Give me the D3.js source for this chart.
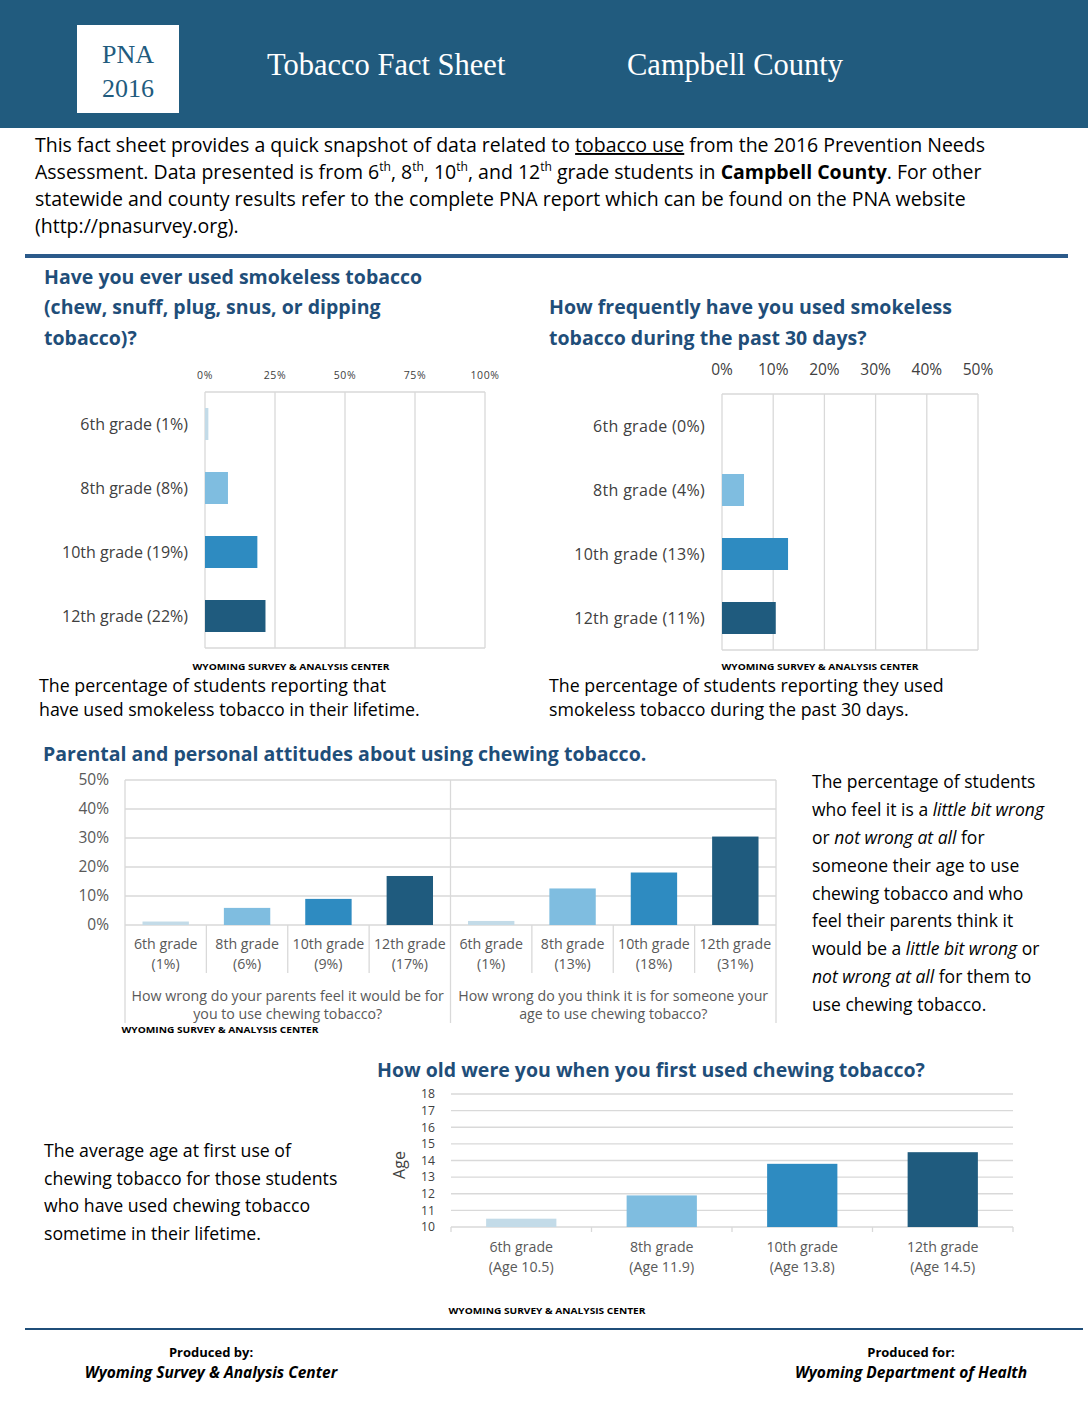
<!DOCTYPE html>
<html><head><meta charset="utf-8">
<script src="https://cdn.jsdelivr.net/npm/d3@7"></script>
<style>
body{margin:0;background:#fff;}
text{font-family:"Open Sans",sans-serif;}
</style></head>
<body>
<svg id="page" width="1088" height="1408"></svg>
<script>
// ---------- DATA ----------
const grades = ["6th grade","8th grade","10th grade","12th grade"];
const everUsed = [1.2, 8.2, 18.7, 21.6];          // % lifetime smokeless use
const past30 = [0, 4.3, 12.9, 10.5];              // % past 30 days
const parentsWrong = [1.2, 5.9, 9.0, 16.9];       // % parents attitude
const selfWrong = [1.4, 12.6, 18.1, 30.5];        // % personal attitude
const firstAge = [10.5, 11.9, 13.8, 14.5];        // average age first use
const ticks1 = [0, 25, 50, 75, 100];
const ticks2 = [0, 10, 20, 30, 40, 50];
const ticks3 = [0, 10, 20, 30, 40, 50];
const ticksAge = [10, 11, 12, 13, 14, 15, 16, 17, 18];
const groupLabels = [
  ["How wrong do your parents feel it would be for","you to use chewing tobacco?"],
  ["How wrong do you think it is for someone your","age to use chewing tobacco?"]
];
const colors = ["#c3dbe8","#7fbde0","#2e8bc1","#1f5b7e"];

const svg = d3.select("#page");
const navy = "#1f4e79", grid = "#d9d9d9", lab = "#404040", lab2 = "#595959";

// ---------- HEADER ----------
svg.append("rect").attr("x",0).attr("y",0).attr("width",1088).attr("height",128).attr("fill","#215b7e");
svg.append("rect").attr("x",77).attr("y",25).attr("width",102).attr("height",88).attr("fill","#fff");
const serif = '"Liberation Serif","DejaVu Serif",serif';
svg.append("text").attr("x",128).attr("y",63).attr("text-anchor","middle").attr("font-size",26)
  .style("font-family",serif).attr("fill","#215b7e").text("PNA");
svg.append("text").attr("x",128).attr("y",97).attr("text-anchor","middle").attr("font-size",26)
  .style("font-family",serif).attr("fill","#215b7e").text("2016");
svg.append("text").attr("x",267).attr("y",75).attr("font-size",30.5).style("font-family",serif)
  .attr("fill","#fff").text("Tobacco Fact Sheet");
svg.append("text").attr("x",627).attr("y",75).attr("font-size",30.5).style("font-family",serif)
  .attr("fill","#fff").text("Campbell County");

// ---------- INTRO ----------
function richLine(x,y,parts,size){
  const t = svg.append("text").attr("x",x).attr("y",y).attr("font-size",size).attr("fill","#000");
  parts.forEach(p=>{
    const s = t.append("tspan").text(p.t);
    if(p.b) s.attr("font-weight","bold");
    if(p.i) s.attr("font-style","italic");
    if(p.u) s.style("text-decoration","underline");
    if(p.sup) s.attr("baseline-shift","super").attr("font-size",size*0.62);
  });
  return t;
}
const introY=[152,179,206,233];
const introSize=19.5;
richLine(35,introY[0],[{t:"This fact sheet provides a quick snapshot of data related to "},{t:"tobacco use",u:1},{t:" from the 2016 Prevention Needs"}],introSize);
richLine(35,introY[1],[{t:"Assessment. Data presented is from 6"},{t:"th",sup:1},{t:", 8"},{t:"th",sup:1},{t:", 10"},{t:"th",sup:1},{t:", and 12"},{t:"th",sup:1},{t:" grade students in "},{t:"Campbell County",b:1},{t:". For other"}],introSize);
richLine(35,introY[2],[{t:"statewide and county results refer to the complete PNA report which can be found on the PNA website"}],introSize);
richLine(35,introY[3],[{t:"(http://pnasurvey.org)."}],introSize);
svg.append("rect").attr("x",25).attr("y",254).attr("width",1043).attr("height",4).attr("fill","#2b5a8a");

// helpers
function title(x,ys,lines){
  lines.forEach((l,i)=>svg.append("text").attr("x",x).attr("y",ys[i]).attr("font-size",19.5)
    .attr("font-weight","bold").attr("fill",navy).text(l));
}
function source(cx,y){
  svg.append("text").attr("x",cx).attr("y",y).attr("text-anchor","middle").attr("font-size",9)
    .attr("font-weight","bold").attr("fill","#000").attr("textLength",197).attr("lengthAdjust","spacingAndGlyphs")
    .text("WYOMING SURVEY & ANALYSIS CENTER");
}
function para(x,ys,lines,size){
  lines.forEach((l,i)=>richLine(x,ys[i],l,size));
}

// ---------- CHART 1 ----------
title(44,[284,314,345],["Have you ever used smokeless tobacco","(chew, snuff, plug, snus, or dipping","tobacco)?"]);
{
  const x = d3.scaleLinear().domain([0,100]).range([205,485]);
  const y = d3.scaleBand().domain(grades).range([392,648]).paddingInner(0.5).paddingOuter(0.25);
  const g = svg.append("g");
  g.selectAll("line.grid").data(ticks1).join("line").attr("x1",d=>x(d)).attr("x2",d=>x(d))
    .attr("y1",392).attr("y2",648).attr("stroke",grid).attr("stroke-width",1.3);
  g.append("line").attr("x1",205).attr("x2",485).attr("y1",392).attr("y2",392).attr("stroke",grid).attr("stroke-width",1.3);
  g.append("line").attr("x1",205).attr("x2",485).attr("y1",648).attr("y2",648).attr("stroke",grid).attr("stroke-width",1.3);
  g.selectAll("text.tk").data(ticks1).join("text").attr("x",d=>x(d)).attr("y",379).attr("text-anchor","middle")
    .attr("font-size",10.5).attr("letter-spacing",0.6).attr("fill",lab).text(d=>d+"%");
  g.selectAll("rect.bar").data(everUsed).join("rect").attr("x",x(0)).attr("y",(d,i)=>y(grades[i]))
    .attr("width",d=>x(d)-x(0)).attr("height",y.bandwidth()).attr("fill",(d,i)=>colors[i]);
  g.selectAll("text.lb").data(everUsed).join("text").attr("x",188).attr("y",(d,i)=>y(grades[i])+y.bandwidth()/2)
    .attr("dy","0.35em").attr("text-anchor","end").attr("font-size",16).attr("fill",lab)
    .text((d,i)=>`${grades[i]} (${Math.round(d)}%)`);
}
source(291,670);
para(39,[692,716],[[{t:"The percentage of students reporting that"}],[{t:"have used smokeless tobacco in their lifetime."}]],17.8);

// ---------- CHART 2 ----------
title(549,[314,345],["How frequently have you used smokeless","tobacco during the past 30 days?"]);
{
  const x = d3.scaleLinear().domain([0,50]).range([722,978]);
  const y = d3.scaleBand().domain(grades).range([394,650]).paddingInner(0.5).paddingOuter(0.25);
  const g = svg.append("g");
  g.selectAll("line.grid").data(ticks2).join("line").attr("x1",d=>x(d)).attr("x2",d=>x(d))
    .attr("y1",394).attr("y2",650).attr("stroke",grid).attr("stroke-width",1.3);
  g.append("line").attr("x1",722).attr("x2",978).attr("y1",394).attr("y2",394).attr("stroke",grid).attr("stroke-width",1.3);
  g.append("line").attr("x1",722).attr("x2",978).attr("y1",650).attr("y2",650).attr("stroke",grid).attr("stroke-width",1.3);
  g.selectAll("text.tk").data(ticks2).join("text").attr("x",d=>x(d)).attr("y",375).attr("text-anchor","middle")
    .attr("font-size",15.5).attr("fill",lab).text(d=>d+"%");
  g.selectAll("rect.bar").data(past30).join("rect").attr("x",x(0)).attr("y",(d,i)=>y(grades[i]))
    .attr("width",d=>x(d)-x(0)).attr("height",y.bandwidth()).attr("fill",(d,i)=>colors[i]);
  g.selectAll("text.lb").data(past30).join("text").attr("x",705).attr("y",(d,i)=>y(grades[i])+y.bandwidth()/2)
    .attr("dy","0.35em").attr("text-anchor","end").attr("font-size",16).attr("letter-spacing",0.3).attr("fill",lab)
    .text((d,i)=>`${grades[i]} (${Math.round(d)}%)`);
}
source(820,670);
para(549,[692,716],[[{t:"The percentage of students reporting they used"}],[{t:"smokeless tobacco during the past 30 days."}]],17.8);

// ---------- CHART 3 ----------
title(43,[761],["Parental and personal attitudes about using chewing tobacco."]);
{
  const L=125,R=776,T=780,B=925;
  const y = d3.scaleLinear().domain([0,50]).range([B,T]);
  const cats = d3.range(8);
  const vals = parentsWrong.concat(selfWrong);
  const x = d3.scaleBand().domain(cats).range([L,R]);
  const g = svg.append("g");
  g.selectAll("line.grid").data(ticks3).join("line").attr("x1",L).attr("x2",R)
    .attr("y1",d=>y(d)).attr("y2",d=>y(d)).attr("stroke",grid).attr("stroke-width",1.3);
  g.selectAll("text.tk").data(ticks3).join("text").attr("x",109).attr("y",d=>y(d)).attr("dy","0.35em")
    .attr("text-anchor","end").attr("font-size",15.5).attr("fill",lab2).text(d=>d+"%");
  [L,(L+R)/2,R].forEach(v=>g.append("line").attr("x1",v).attr("x2",v).attr("y1",T).attr("y2",1023)
    .attr("stroke",grid).attr("stroke-width",1.3));
  [1,2,3,5,6,7].forEach(c=>g.append("line").attr("x1",x(c)).attr("x2",x(c)).attr("y1",B).attr("y2",973)
    .attr("stroke",grid).attr("stroke-width",1.3));
  const bw = x.bandwidth()*0.57;
  g.selectAll("rect.bar").data(vals).join("rect").attr("x",(d,i)=>x(i)+(x.bandwidth()-bw)/2)
    .attr("y",d=>y(d)).attr("width",bw).attr("height",d=>B-y(d)).attr("fill",(d,i)=>colors[i%4]);
  g.selectAll("text.c1").data(vals).join("text").attr("x",(d,i)=>x(i)+x.bandwidth()/2).attr("y",949)
    .attr("text-anchor","middle").attr("font-size",14.2).attr("fill",lab2).text((d,i)=>grades[i%4]);
  g.selectAll("text.c2").data(vals).join("text").attr("x",(d,i)=>x(i)+x.bandwidth()/2).attr("y",969)
    .attr("text-anchor","middle").attr("font-size",14.2).attr("fill",lab2).text(d=>`(${Math.round(d)}%)`);
  groupLabels.forEach((gl,k)=>{
    const cx = k===0 ? (L+(L+R)/2)/2 : ((L+R)/2+R)/2;
    gl.forEach((l,j)=>g.append("text").attr("x",cx).attr("y",1001+j*18).attr("text-anchor","middle")
      .attr("font-size",14.2).attr("fill",lab2).text(l));
  });
}
source(220,1033);
para(812,[788,816,844,872,900,927,955,983,1011],[
  [{t:"The percentage of students"}],
  [{t:"who feel it is a "},{t:"little bit wrong",i:1}],
  [{t:"or "},{t:"not wrong at all",i:1},{t:" for"}],
  [{t:"someone their age to use"}],
  [{t:"chewing tobacco and who"}],
  [{t:"feel their parents think it"}],
  [{t:"would be a "},{t:"little bit wrong",i:1},{t:" or"}],
  [{t:"not wrong at all",i:1},{t:" for them to"}],
  [{t:"use chewing tobacco."}]
],17.5);

// ---------- CHART 4 ----------
title(377,[1077],["How old were you when you first used chewing tobacco?"]);
{
  const L=451,R=1013,T=1094,B=1227;
  const y = d3.scaleLinear().domain([10,18]).range([B,T]);
  const x = d3.scaleBand().domain(grades).range([L,R]).paddingInner(0.5).paddingOuter(0.25);
  const g = svg.append("g");
  g.selectAll("line.grid").data(ticksAge).join("line").attr("x1",L).attr("x2",R)
    .attr("y1",d=>y(d)).attr("y2",d=>y(d)).attr("stroke",grid).attr("stroke-width",1.3);
  g.selectAll("text.tk").data(ticksAge).join("text").attr("x",435).attr("y",d=>y(d)).attr("dy","0.35em")
    .attr("text-anchor","end").attr("font-size",12.2).attr("fill",lab).text(d=>d);
  const step = (R-L)/4;
  d3.range(5).forEach(k=>g.append("line").attr("x1",L+k*step).attr("x2",L+k*step).attr("y1",B).attr("y2",B+5)
    .attr("stroke",grid).attr("stroke-width",1.3));
  g.selectAll("rect.bar").data(firstAge).join("rect").attr("x",(d,i)=>x(grades[i])).attr("y",d=>y(d))
    .attr("width",x.bandwidth()).attr("height",d=>B-y(d)).attr("fill",(d,i)=>colors[i]);
  g.selectAll("text.c1").data(firstAge).join("text").attr("x",(d,i)=>x(grades[i])+x.bandwidth()/2).attr("y",1252)
    .attr("text-anchor","middle").attr("font-size",14.2).attr("fill",lab2).text((d,i)=>grades[i]);
  g.selectAll("text.c2").data(firstAge).join("text").attr("x",(d,i)=>x(grades[i])+x.bandwidth()/2).attr("y",1272)
    .attr("text-anchor","middle").attr("font-size",14.2).attr("fill",lab2).text(d=>`(Age ${d.toFixed(1)})`);
  g.append("text").attr("transform","translate(405,1165) rotate(-90)").attr("text-anchor","middle")
    .attr("font-size",16).attr("fill",lab).text("Age");
}
para(44,[1157,1185,1212,1240],[
  [{t:"The average age at first use of"}],
  [{t:"chewing tobacco for those students"}],
  [{t:"who have used chewing tobacco"}],
  [{t:"sometime in their lifetime."}]
],17.7);
source(547,1314);

// ---------- FOOTER ----------
svg.append("line").attr("x1",25).attr("x2",1083).attr("y1",1329).attr("y2",1329).attr("stroke",navy).attr("stroke-width",2);
[[211,"Produced by:","Wyoming Survey & Analysis Center"],[911,"Produced for:","Wyoming Department of Health"]].forEach(f=>{
  svg.append("text").attr("x",f[0]).attr("y",1357).attr("text-anchor","middle").attr("font-size",13)
    .attr("font-weight","bold").attr("fill","#000").text(f[1]);
  svg.append("text").attr("x",f[0]).attr("y",1378).attr("text-anchor","middle").attr("font-size",15.5)
    .attr("font-weight","bold").attr("font-style","italic").attr("fill","#000").text(f[2]);
});
</script>
</body></html>
